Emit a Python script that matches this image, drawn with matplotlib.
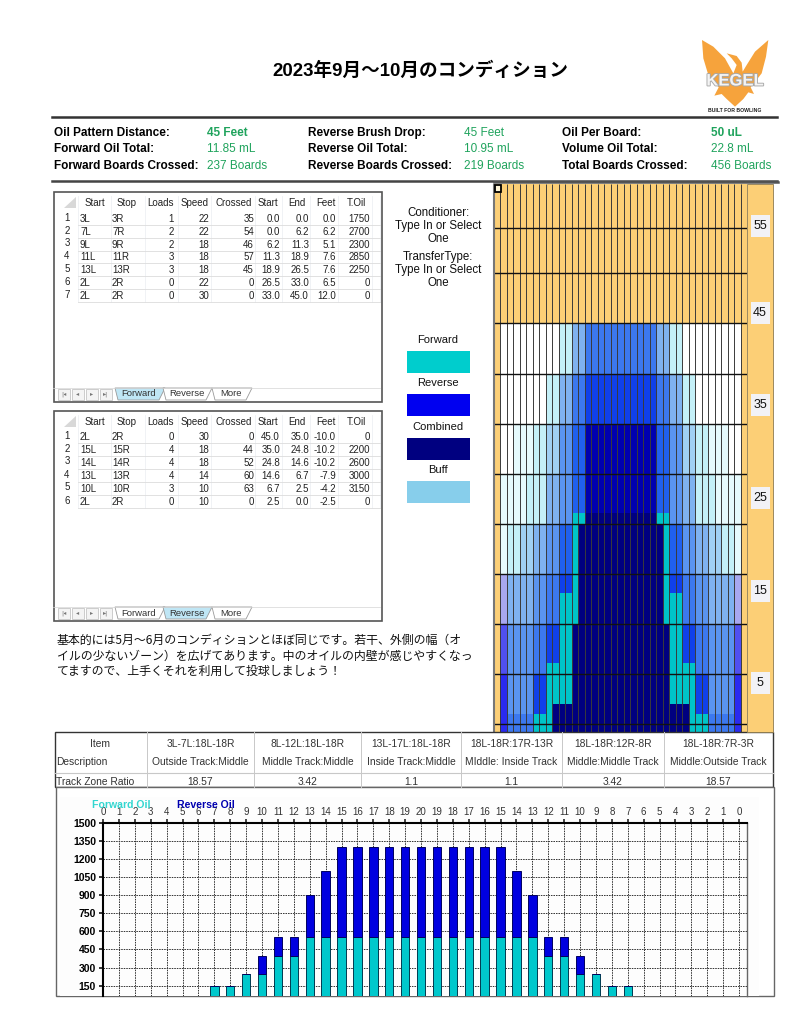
import matplotlib
matplotlib.use('Agg')
import matplotlib.pyplot as plt
import matplotlib.patheffects as pe
from matplotlib.colors import ListedColormap
from matplotlib.patches import Polygon, Rectangle
import numpy as np

SANS = ['Liberation Sans', 'DejaVu Sans']
JP = ['Noto Sans CJK JP', 'DejaVu Sans']
LATIN_JP = ['Liberation Sans', 'Noto Sans CJK JP', 'DejaVu Sans']

# header data
title = '2023年9月～10月のコンディション'
info_labels = [['Oil Pattern Distance:', 'Forward Oil Total:', 'Forward Boards Crossed:'],
               ['Reverse Brush Drop:', 'Reverse Oil Total:', 'Reverse Boards Crossed:'],
               ['Oil Per Board:', 'Volume Oil Total:', 'Total Boards Crossed:']]
info_values = [['45 Feet', '11.85 mL', '237 Boards'],
               ['45 Feet', '10.95 mL', '219 Boards'],
               ['50 uL', '22.8 mL', '456 Boards']]

# load tables
table_head = ['Start', 'Stop', 'Loads', 'Speed', 'Crossed', 'Start', 'End', 'Feet', 'T.Oil']
forward_table = [['3L', '3R', '1', '22', '35', '0.0', '0.0', '0.0', '1750'],
                 ['7L', '7R', '2', '22', '54', '0.0', '6.2', '6.2', '2700'],
                 ['9L', '9R', '2', '18', '46', '6.2', '11.3', '5.1', '2300'],
                 ['11L', '11R', '3', '18', '57', '11.3', '18.9', '7.6', '2850'],
                 ['13L', '13R', '3', '18', '45', '18.9', '26.5', '7.6', '2250'],
                 ['2L', '2R', '0', '22', '0', '26.5', '33.0', '6.5', '0'],
                 ['2L', '2R', '0', '30', '0', '33.0', '45.0', '12.0', '0']]
reverse_table = [['2L', '2R', '0', '30', '0', '45.0', '35.0', '-10.0', '0'],
                 ['15L', '15R', '4', '18', '44', '35.0', '24.8', '-10.2', '2200'],
                 ['14L', '14R', '4', '18', '52', '24.8', '14.6', '-10.2', '2600'],
                 ['13L', '13R', '4', '14', '60', '14.6', '6.7', '-7.9', '3000'],
                 ['10L', '10R', '3', '10', '63', '6.7', '2.5', '-4.2', '3150'],
                 ['2L', '2R', '0', '10', '0', '2.5', '0.0', '-2.5', '0']]

# track zone table
zone_head = ['Item', '3L-7L:18L-18R', '8L-12L:18L-18R', '13L-17L:18L-18R',
             '18L-18R:17R-13R', '18L-18R:12R-8R', '18L-18R:7R-3R']
zone_desc = ['Description', 'Outside Track:Middle', 'Middle Track:Middle', 'Inside Track:Middle',
             'MIddle: Inside Track', 'Middle:Middle Track', 'Middle:Outside Track']
zone_ratio = ['Track Zone Ratio', '18.57', '3.42', '1.1', '1.1', '3.42', '18.57']

note_lines = ['基本的には5月～6月のコンディションとほぼ同じです。若干、外側の幅（オ',
              'イルの少ないゾーン）を広げてあります。中のオイルの内壁が感じやすくなっ',
              'てますので、上手くそれを利用して投球しましょう！']

# bar chart values per board, left gutter to right gutter
board_labels = list(range(0, 21)) + list(range(19, -1, -1))
forward_half = [0, 0, 0, 50, 50, 50, 50, 150, 150, 250, 250, 400, 400, 550, 550,
                550, 550, 550, 550, 550, 550]
reverse_half = [0, 0, 0, 0, 0, 0, 0, 0, 0, 0, 150, 150, 150, 350, 550,
                750, 750, 750, 750, 750, 750]
forward_oil = forward_half + forward_half[-2::-1]
reverse_oil = reverse_half + reverse_half[-2::-1]

# oil map: feet edges of each band and the colour level of boards 0-19 (mirrored)
band_edges = [0, 1.98, 3.08, 6.38, 7.55, 11.88, 15.26, 17.4, 22.9, 24.05, 28.38, 33.9, 39.38, 45, 60.3]
band_levels = [
    [0, 13, 7, 7, 7, 7, 14, 14, 14, 16, 16, 16, 16, 16, 16, 16, 16, 16, 16, 16],
    [0, 13, 6, 6, 6, 6, 9, 9, 14, 16, 16, 16, 16, 16, 16, 16, 16, 16, 16, 16],
    [0, 13, 6, 6, 6, 6, 9, 9, 14, 14, 14, 14, 16, 16, 16, 16, 16, 16, 16, 16],
    [0, 12, 6, 6, 6, 6, 7, 7, 14, 14, 14, 14, 16, 16, 16, 16, 16, 16, 16, 16],
    [0, 12, 6, 6, 6, 6, 7, 7, 9, 9, 14, 14, 16, 16, 16, 16, 16, 16, 16, 16],
    [0, 11, 5, 5, 5, 5, 6, 6, 7, 7, 14, 14, 14, 16, 16, 16, 16, 16, 16, 16],
    [0, 11, 5, 5, 5, 5, 6, 6, 7, 7, 9, 9, 14, 16, 16, 16, 16, 16, 16, 16],
    [0, 2, 3, 3, 4, 4, 5, 5, 6, 6, 8, 8, 14, 16, 16, 16, 16, 16, 16, 16],
    [0, 2, 2, 2, 2, 3, 3, 3, 5, 5, 6, 6, 14, 14, 16, 16, 16, 16, 16, 16],
    [0, 2, 2, 2, 2, 3, 3, 3, 5, 5, 6, 6, 8, 8, 15, 15, 15, 15, 15, 15],
    [0, 1, 1, 2, 2, 2, 3, 3, 4, 4, 6, 6, 8, 8, 15, 15, 15, 15, 15, 15],
    [0, 1, 1, 1, 1, 1, 1, 1, 3, 3, 5, 5, 7, 7, 9, 9, 9, 9, 9, 9],
    [0, 1, 1, 1, 1, 1, 1, 1, 1, 1, 3, 3, 5, 5, 7, 7, 7, 7, 7, 7],
    [0] * 20,
]
level_colors = ['#FCCF76', '#FFFFFF', '#E6FAFD', '#C4F0F8', '#A0D0F4', '#7FB2F0', '#5A94F0',
                '#3C78EF', '#2060EE', '#1040EA', '#0000F0', '#A8A8F0', '#5050F0', '#2A2AF0',
                '#00C4C8', '#0000B0', '#000080']
line_feet = [0.9, 6.38, 11.88, 17.4, 22.9, 28.38, 33.9, 39.38, 45, 50.5, 55.5]
ruler_labels = ['5', '15', '25', '35', '45', '55']
ruler_feet = [5.4, 15.5, 25.7, 36.0, 46.1, 55.7]

legend_names = ['Forward', 'Reverse', 'Combined', 'Buff']
legend_colors = ['#00CDCD', '#0000F0', '#000080', '#87CEEB']

fig = plt.figure(figsize=(8.0, 10.35), dpi=100)
W, H = 800, 1035


def px_axes(left, top, right, bottom):
    return fig.add_axes([left / W, 1 - bottom / H, (right - left) / W, (bottom - top) / H])


# page layer works in image pixels
page = fig.add_axes([0, 0, 1, 1])
page.set_xlim(0, W)
page.set_ylim(H, 0)
page.axis('off')
page.set_zorder(1)


def txt(x, y, s, size=7, ha='left', color='#222222', family=SANS, weight='normal'):
    page.text(x, y, s, fontsize=size, ha=ha, va='center', color=color, family=family, weight=weight)


txt(420, 71, title, size=13.4, ha='center', color='black', family=LATIN_JP, weight='bold')
page.plot([52, 777], [117, 117], color='#333333', lw=1.8)
page.plot([52, 777], [181, 181], color='#444444', lw=1.8)

# logo
logo = np.array([(66, 30), (100, 50), (135, 85), (150, 112), (160, 130), (170, 105), (155, 85), (140, 70),
                 (170, 78), (185, 98), (188, 125), (200, 105), (225, 65), (265, 30), (258, 80), (245, 130),
                 (212, 172), (222, 192), (205, 187), (190, 207), (165, 230), (140, 207), (125, 192),
                 (103, 197), (116, 172), (85, 135), (70, 85)], dtype=float)
logo = logo / 3 + [680, 30]
page.add_patch(Polygon(logo, closed=True, color='#F6A33C', lw=0))
page.text(735, 81, 'KEGEL', fontsize=12, ha='center', va='center', weight='bold', color='#F4F4F4', family=SANS,
          path_effects=[pe.withStroke(linewidth=1.3, foreground='#A8A8A8')])
txt(735, 110, 'BUILT FOR BOWLING', size=3.7, ha='center', color='#222222', weight='bold')

# info block
label_x = [54, 308, 562]
value_x = [207, 464, 711]
row_y = [133, 149.5, 166]
for i in range(3):
    for j in range(3):
        txt(label_x[i], row_y[j], info_labels[i][j], size=8.5, color='black', weight='bold')
        bold = j == 0 and i != 1
        txt(value_x[i], row_y[j], info_values[i][j], size=8.5, color='#1FA35C',
            weight='bold' if bold else 'normal')

# load tables
head_x = [95, 127, 161, 195, 234, 268, 297, 326, 356]
cell_x = [80, 112, 174, 209, 254, 280, 309, 336, 370]
col_edges = [78, 111, 145, 178, 211, 255, 282, 310, 338, 372, 380]


def load_table(top, rows, row_ys, tab_y, active):
    page.add_patch(Rectangle((53.5, top), 328, 210, fc='white', ec='#555555', lw=1.2))
    page.add_patch(Polygon([(64, top + 16), (76, top + 16), (76, top + 5)], color='#D8D8D8', lw=0))
    txt_y = top + 11
    for x, h in zip(head_x, table_head):
        txt(x, txt_y, h, size=7, ha='center')
    bottom = row_ys[-1] + 6
    for x in col_edges:
        page.plot([x, x], [top + 4, bottom], color='#EEF0F4', lw=0.6)
    for n, (y, row) in enumerate(zip(row_ys, rows)):
        txt(67, y - 1, str(n + 1), size=7, ha='center')
        page.plot([78, 380], [y + 6, y + 6], color='#DCDCDC', lw=0.6)
        for k, (x, v) in enumerate(zip(cell_x, row)):
            txt(x, y, v, size=7, ha='left' if k < 2 else 'right')
    # sheet tabs
    for k in range(4):
        x0 = 58 + k * 14
        page.add_patch(Rectangle((x0, tab_y - 5), 12, 11, fc='#F4F4F4', ec='#BBBBBB', lw=0.5))
        page.text(x0 + 6, tab_y, ['|◂', '◂', '▸', '▸|'][k], fontsize=4.5, ha='center', va='center',
                  color='#777777', family=['DejaVu Sans'])
    tabs = [('Forward', 115, 165), ('Reverse', 163, 212), ('More', 212, 252)]
    page.plot([53, 380], [tab_y - 6, tab_y - 6], color='#D4D4D4', lw=0.5)
    for name, x0, x1 in tabs:
        on = name == active
        page.add_patch(Polygon([(x0, tab_y - 6), (x0 + 3, tab_y + 6), (x1 - 6, tab_y + 6), (x1, tab_y - 6)],
                               closed=True, fc='#BFE6F5' if on else 'white', ec='#999999', lw=0.6))
        txt((x0 + x1) / 2 - 1, tab_y, name, size=6.8, ha='center', color='#333333')


load_table(192, forward_table, [219, 232, 244.5, 257, 270, 283, 296], 394, 'Forward')
load_table(411, reverse_table, [437, 450, 462.5, 476, 488.5, 502], 613, 'Reverse')

# conditioner text and legend
for y, s in zip([213, 226, 239, 257, 270, 283],
                ['Conditioner:', 'Type In or Select', 'One', 'TransferType:', 'Type In or Select', 'One']):
    txt(438, y, s, size=8.3, ha='center', color='#111111')
for y, name, c in zip([340, 383, 427, 470], legend_names, legend_colors):
    txt(438, y, name, size=8, ha='center', color='#111111')
    page.add_patch(Rectangle((407, y + 11), 63, 22, fc=c, lw=0))

for y, s in zip([640, 656, 671], note_lines):
    txt(57, y, s, size=8.6, color='#111111', family=JP)

# track zone table
zone_edges = [55, 147, 254, 361, 461, 562, 664, 773]
page.add_patch(Rectangle((55, 732), 718, 55, fc='white', ec='#333333', lw=1))
for x in zone_edges[1:-1]:
    page.plot([x, x], [732, 787], color='#C8C8C8', lw=0.7)
page.plot([55, 773], [773, 773], color='#C8C8C8', lw=0.8)
for k in range(7):
    cx = (zone_edges[k] + zone_edges[k + 1]) / 2
    if k == 0:
        txt(100, 744, zone_head[0], size=7.4, ha='center', color='#333333')
        txt(56, 762, zone_desc[0], size=7.4, color='#333333')
        txt(56, 782, zone_ratio[0], size=7.4, color='#333333')
    else:
        txt(cx, 744, zone_head[k], size=7.4, ha='center', color='#333333')
        txt(cx, 762, zone_desc[k], size=7.4, ha='center', color='#333333')
        txt(cx, 782, zone_ratio[k], size=7.4, ha='center', color='#333333')

# oil map
page.add_patch(Rectangle((747, 184), 26, 548, fc='#FCCF76', ec='#8C7A50', lw=0.6))
page.plot([494, 778], [181.5, 181.5], color='#555555', lw=1.8)
oil = px_axes(494, 184, 747, 732)
oil.set_zorder(0)
grid = np.array([row + row[-2::-1] for row in band_levels])
oil.pcolormesh(np.arange(40), band_edges, grid, cmap=ListedColormap(level_colors), vmin=0, vmax=16)
oil.set_xlim(0, 39)
oil.set_ylim(0, 60.3)
oil.axis('off')
oil.vlines(np.arange(1, 39), 0, 60.3, color='#3A3A3A', lw=0.7)
oil.hlines(line_feet, 0, 39, color='#111111', lw=1.0)
oil.vlines(0, 0, 60.3, color='#777777', lw=1.5, clip_on=False)
for s, ft in zip(ruler_labels, ruler_feet):
    y = 732 - ft * 9.09
    page.add_patch(Rectangle((751, y - 11), 19, 22, fc='#F2F2F6', lw=0))
    txt(760, y, s, size=9, ha='center', color='#111111')
page.add_patch(Rectangle((495, 185), 6, 7, fc='#FFF6D8', ec='black', lw=1.3, zorder=5))

# bar chart
page.add_patch(Rectangle((56, 787), 718, 209, fc='white', ec='#666666', lw=1))
page.add_patch(Rectangle((60, 797), 699, 199, fc='#FDFDFD', lw=0))
bars = px_axes(103, 823, 747, 996)
bars.set_zorder(2)
bars.patch.set_alpha(0)
x = np.arange(len(board_labels))
bars.bar(x, forward_oil, width=0.53, color='#00C8CC', edgecolor='#003A50', lw=0.7, zorder=3)
bars.bar(x, reverse_oil, bottom=forward_oil, width=0.53, color='#0000E0', edgecolor='#000060', lw=0.7, zorder=3)
bars.set_xlim(0, 40.5)
bars.set_ylim(64, 1500)
bars.set_yticks(np.arange(150, 1501, 150))
bars.set_yticklabels([str(v) for v in np.arange(150, 1501, 150)], fontsize=7.5, weight='bold', family=SANS)
bars.set_xticks(x)
bars.set_xticklabels(board_labels, fontsize=7, family=SANS, color='#333333')
bars.xaxis.tick_top()
bars.tick_params(axis='x', length=3, width=1.1, pad=1.5, color='#111111')
bars.tick_params(axis='y', length=3, width=1.1, pad=2)
bars.grid(True, color='#333333', ls=(0, (1.6, 1)), lw=0.7, zorder=1)
bars.set_axisbelow(True)
bars.spines['bottom'].set_visible(False)
bars.spines['top'].set_linewidth(1.5)
bars.spines['left'].set_linewidth(1.5)
bars.spines['right'].set_color('#666666')
bars.spines['right'].set_linewidth(1)
fig.text(92 / W, 1 - 805 / H, 'Forward Oil', fontsize=7.6, weight='bold', color='#33D6D0', va='center',
         family=SANS, zorder=5)
fig.text(177 / W, 1 - 805 / H, 'Reverse Oil', fontsize=7.6, weight='bold', color='#0000B0', va='center',
         family=SANS, zorder=5)

fig.savefig('out.png', dpi=100)
